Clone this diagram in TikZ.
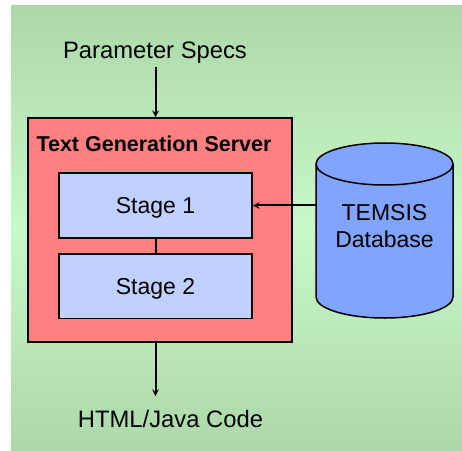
\documentclass[tikz,border=0pt]{standalone}
\usepackage{fontspec}
\setmainfont{Liberation Sans}
\usetikzlibrary{arrows}
\definecolor{bgdark}{RGB}{172,216,170}
\definecolor{bglight}{RGB}{200,248,200}
\definecolor{stagebg}{RGB}{192,208,255}
\definecolor{dbblue}{RGB}{128,164,255}
\tikzstyle{bx}=[draw=black,line width=1.5pt,inner sep=0pt]
\tikzstyle{txt}=[font=\fontsize{23}{27}\selectfont]
\tikzstyle{io}=[font=\fontsize{23.8}{28}\selectfont,anchor=base]
\tikzstyle{stg}=[bx,txt,fill=stagebg,minimum width=193pt,minimum height=64.5pt,text depth=0pt]
\tikzstyle{arr}=[->,>=stealth,line width=2pt]

\begin{document}
\begin{tikzpicture}[x=1pt,y=1pt]
\useasboundingbox (0,0) rectangle (462,450);
\shade[top color=bgdark,bottom color=bgdark,middle color=bglight] (11,0) rectangle (462,444);
% server with its two stages
\node[bx,fill=red!50,minimum width=264pt,minimum height=224pt] (srv) at (160,220) {};
\node[anchor=base,font=\bfseries\fontsize{21.5}{25}\selectfont] (ttl) at (154,298.3) {Text Generation Server};
\node[stg] (s1) at (155.5,244.5) {Stage 1};
\node[stg] (s2) at (155.5,164) {Stage 2};
\draw[line width=2pt] (s1) -- (s2);
% database
\filldraw[fill=dbblue,line width=1.5pt] (316,286) -- (316,153)
  arc[start angle=180,end angle=360,x radius=68.5pt,y radius=21pt] -- (453,286)
  arc[start angle=0,end angle=180,x radius=68.5pt,y radius=21pt] -- cycle;
\draw[line width=1.5pt] (316,286) arc[start angle=180,end angle=360,x radius=68.5pt,y radius=21pt];
\node[txt,align=center,minimum width=137pt,inner sep=0pt] (db) at (384.5,224) {TEMSIS\\Database};
% in and out
\node[io] (par) at (155,391.7) {Parameter Specs};
\node[io] (code) at (170.5,23) {HTML/Java Code};
\draw[arr] (s1 |- par.south) -- (s1 |- srv.north);
\draw[arr,shorten >=10pt] (s1 |- srv.south) -- (s1 |- code.north);
\draw[arr] (db.west |- s1.east) -- (s1.east);
\end{tikzpicture}
\end{document}
